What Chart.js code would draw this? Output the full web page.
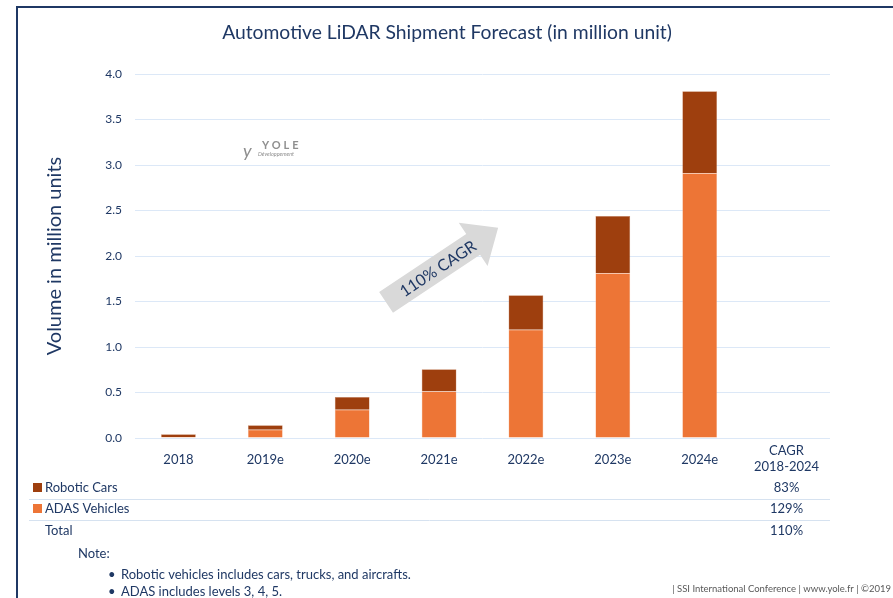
<!DOCTYPE html>
<html>
<head>
<meta charset="utf-8">
<script src="https://cdn.jsdelivr.net/npm/chart.js@4.4.1/dist/chart.umd.min.js"></script>
<style>
  html, body { margin: 0; padding: 0; background: #fff; }
  canvas { display: block; }
</style>
</head>
<body>
<canvas id="lidarChart" width="893" height="598"></canvas>
<script>
// Datos (millones de unidades)
const years = ['2018', '2019e', '2020e', '2021e', '2022e', '2023e', '2024e', ''];
const adasVehicles = [0.012, 0.09, 0.31, 0.51, 1.19, 1.81, 2.91];
const roboticCars = [0.028, 0.05, 0.14, 0.245, 0.38, 0.63, 0.90];

const seriesNames = ['Robotic Cars', 'ADAS Vehicles', 'Total'];
const cagrValues = ['83%', '129%', '110%'];
const cagrHeader = ['CAGR', '2018-2024'];
const chartTitle = 'Automotive LiDAR Shipment Forecast (in million unit)';
const arrowText = '110% CAGR';
const notes = ['Robotic vehicles includes cars, trucks, and aircrafts.', 'ADAS includes levels 3, 4, 5.'];
const footer = '| SSI International Conference | www.yole.fr | ©2019';

const navy = '#1f3864';
const adasColor = '#ed7536';
const roboticColor = '#9e3f0e';
const fontFam = 'Lato, "Open Sans", sans-serif';

const decor = {
    id: 'decor',
    afterDraw(chart) {
        const { ctx, chartArea } = chart;
        const x = chart.scales.x;
        const y = chart.scales.y;
        ctx.save();

        // marco
        ctx.strokeStyle = navy;
        ctx.lineWidth = 2;
        ctx.beginPath();
        ctx.moveTo(17, 598);
        ctx.lineTo(17, 7);
        ctx.lineTo(893, 7);
        ctx.stroke();

        // título
        ctx.fillStyle = navy;
        ctx.font = '19.3px ' + fontFam;
        ctx.textAlign = 'center';
        ctx.textBaseline = 'middle';
        ctx.fillText(chartTitle, 447, 33);

        // logo Yole
        ctx.fillStyle = '#8f8f8f';
        ctx.textBaseline = 'alphabetic';
        ctx.textAlign = 'left';
        ctx.font = 'italic 18px ' + fontFam;
        ctx.fillText('y', 243, 157);
        ctx.font = 'bold 11px ' + fontFam;
        ctx.letterSpacing = '3px';
        ctx.fillText('YOLE', 262, 149);
        ctx.letterSpacing = '0px';
        ctx.font = 'italic 5.5px ' + fontFam;
        ctx.fillText('Développement', 258, 156);

        // flecha CAGR
        const x0 = x.getPixelForValue(2.39), y0 = y.getPixelForValue(1.49);
        const x1 = x.getPixelForValue(3.68), y1 = y.getPixelForValue(2.31);
        const ang = Math.atan2(y1 - y0, x1 - x0);
        const len = Math.hypot(x1 - x0, y1 - y0);
        ctx.translate(x0, y0);
        ctx.rotate(ang);
        ctx.fillStyle = '#d9d9d9';
        ctx.beginPath();
        ctx.moveTo(0, -12.5);
        ctx.lineTo(len - 30, -12.5);
        ctx.lineTo(len - 30, -26);
        ctx.lineTo(len, 0);
        ctx.lineTo(len - 30, 26);
        ctx.lineTo(len - 30, 12.5);
        ctx.lineTo(0, 12.5);
        ctx.closePath();
        ctx.fill();
        ctx.fillStyle = navy;
        ctx.font = '16px ' + fontFam;
        ctx.textAlign = 'center';
        ctx.textBaseline = 'middle';
        ctx.fillText(arrowText, 62, 1);
        ctx.setTransform(1, 0, 0, 1, 0, 0);

        // tabla CAGR
        const cx = x.getPixelForValue(7);
        ctx.font = '13px ' + fontFam;
        ctx.fillStyle = navy;
        ctx.textAlign = 'center';
        ctx.fillText(cagrHeader[0], cx, 451);
        ctx.fillText(cagrHeader[1], cx, 467);

        const rowY = [488, 509, 531];
        const swatch = [roboticColor, adasColor, null];
        ctx.strokeStyle = '#d6e2f0';
        ctx.lineWidth = 1;
        [499.5, 520.5].forEach(ly => {
            ctx.beginPath();
            ctx.moveTo(29, ly);
            ctx.lineTo(chartArea.right, ly);
            ctx.stroke();
        });
        rowY.forEach((ry, i) => {
            if (swatch[i]) {
                ctx.fillStyle = swatch[i];
                ctx.fillRect(33, ry - 5, 9, 9);
            }
            ctx.fillStyle = navy;
            ctx.textAlign = 'left';
            ctx.fillText(seriesNames[i], 45, ry);
            ctx.textAlign = 'center';
            ctx.fillText(cagrValues[i], cx, ry);
        });

        // notas
        ctx.textAlign = 'left';
        ctx.fillText('Note:', 78, 554);
        notes.forEach((n, i) => {
            ctx.fillText('•', 108, 575 + i * 17);
            ctx.fillText(n, 121, 575 + i * 17);
        });

        // pie
        ctx.fillStyle = '#595959';
        ctx.font = '9.5px ' + fontFam;
        ctx.textAlign = 'right';
        ctx.fillText(footer, 891, 589);
        ctx.restore();
    }
};

new Chart(document.getElementById('lidarChart'), {
    type: 'bar',
    data: {
        labels: years,
        datasets: [
            { label: 'ADAS Vehicles', data: adasVehicles, backgroundColor: adasColor, borderColor: '#f3b08c', borderWidth: 0.5 },
            { label: 'Robotic Cars', data: roboticCars, backgroundColor: roboticColor, borderColor: '#c98a6a', borderWidth: 0.5 }
        ]
    },
    options: {
        responsive: false,
        animation: false,
        categoryPercentage: 0.8,
        barPercentage: 0.5,
        layout: { padding: { left: 17, right: 63, top: 74, bottom: 120 } },
        plugins: {
            legend: { display: false },
            tooltip: { enabled: false },
            title: { display: false }
        },
        scales: {
            x: {
                stacked: true,
                grid: { display: false },
                border: { display: false },
                ticks: { color: navy, font: { family: fontFam, size: 13 }, padding: 6 },
                afterFit: s => { s.height = 40; }
            },
            y: {
                stacked: true,
                min: 0,
                max: 4,
                grid: { color: '#dce8f7', drawTicks: false },
                border: { display: false },
                ticks: {
                    stepSize: 0.5,
                    color: navy,
                    font: { family: fontFam, size: 12 },
                    padding: 13,
                    callback: v => v.toFixed(1)
                },
                title: {
                    display: true,
                    text: 'Volume in million units',
                    color: navy,
                    font: { family: fontFam, size: 20 },
                    padding: { top: 26 }
                },
                afterFit: s => { s.width = 118; }
            }
        }
    },
    plugins: [decor]
});
</script>
</body>
</html>
